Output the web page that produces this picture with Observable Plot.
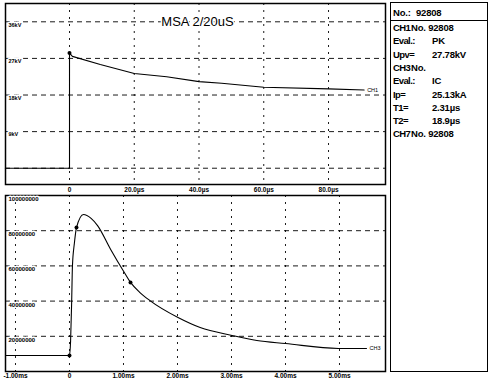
<!DOCTYPE html>
<html><head><meta charset="utf-8">
<script src="https://cdn.jsdelivr.net/npm/d3@7"></script>
<script src="https://cdn.jsdelivr.net/npm/@observablehq/plot@0.6"></script>
<style>
body{margin:0;background:#fff;}
#wrap{position:relative;width:490px;height:378px;overflow:hidden;background:#fff;font-family:"Liberation Sans",Arial,sans-serif;}
#top,#bot{position:absolute;left:0;}
#top{top:0;}
#bot{top:193px;}
#info{position:absolute;left:390px;top:2px;width:98px;height:370px;border:1.5px solid #000;box-sizing:border-box;color:#000;font-weight:bold;font-size:9.5px;letter-spacing:-0.2px;}
#info .hdr{position:absolute;left:0;top:0;width:100%;height:18px;border-bottom:1.2px solid #000;box-sizing:border-box;}
#info .t{position:absolute;white-space:nowrap;line-height:12px;}
#info .k{letter-spacing:-0.6px;}
</style></head>
<body><div id="wrap"><div id="top"></div><div id="bot"></div><div id="info"></div></div>
<script>
// ---------- data ----------
const title = "MSA 2/20uS";
// CH1 voltage (kV) vs time (µs)
const vTime = [-19.8, 0, 0, 0.9, 9.5, 20, 30, 40, 47, 60, 80, 91];
const vKV   = [0, 0, 28.3, 27.5, 25.5, 23.3, 22.5, 21.3, 20.9, 19.9, 19.5, 19.25];
const vDotTime = [0];
const vDotKV = [28.3];
const vTicks = [0, 20, 40, 60, 80];
const vTickLabels = ["0", "20.0µs", "40.0µs", "60.0µs", "80.0µs"];
const kvGrid = [0, 9, 18, 27, 36];
const kvTicks = [9, 18, 27, 36];
const kvLabels = ["9kV", "18kV", "27kV", "36kV"];
const ch1Label = "CH1";

// CH3 current vs time
const iTime = [-1.185, 0, 0.02, 0.04, 0.055, 0.09, 0.13, 0.26, 0.4, 0.52, 0.76, 1.01, 1.13, 1.3, 1.49, 2.01, 2.42, 3.01, 3.47, 4.0, 4.98, 5.5];
const iVal  = [9.1, 9.1, 17, 39.2, 60.2, 72.7, 81.8, 89.2, 87, 82.9, 69.5, 56.5, 50.6, 45, 40.3, 30.7, 25, 20.5, 17.6, 15.9, 13.1, 13.1];
const iDotTime = [0, 0.13, 1.13];
const iDotVal = [9.1, 81.8, 50.6];
const iTicks = [-1, 0, 1, 2, 3, 4, 5];
const iTickLabels = ["-1.00ms", "0", "1.00ms", "2.00ms", "3.00ms", "4.00ms", "5.00ms"];
const iYTicks = [20, 40, 60, 80, 100];
const iYLabels = ["20000000", "40000000", "60000000", "80000000", "100000000"];
const ch3Label = "CH3";

// info panel
const infoHeader = ["No.:", "92808"];
const infoKeys = ["CH1", "Eval.:", "Upv=", "CH3", "Eval.:", "Ip=", "T1=", "T2=", "CH7"];
const infoVals = ["No. 92808", "PK", "27.78kV", "No.", "IC", "25.13kA", "2.31µs", "18.9µs", "No. 92808"];
const infoIsChannel = [true, false, false, true, false, false, false, false, true];

// ---------- charts ----------
const font = {fontFamily: "'Liberation Sans', Arial, sans-serif", background: "transparent", color: "#000", overflow: "visible"};
const gridStyleH = {stroke: "#000", strokeOpacity: 1, strokeWidth: 0.9, strokeDasharray: "5,4"};
const gridStyleV = {stroke: "#000", strokeOpacity: 1, strokeWidth: 0.9, strokeDasharray: "2,5"};

const vData = vTime.map((t, i) => ({t, v: vKV[i]}));
const vDots = vDotTime.map((t, i) => ({t, v: vDotKV[i]}));
const vEnd = vData[vData.length - 1];

const topPlot = Plot.plot({
  width: 390, height: 193,
  marginLeft: 5, marginRight: 5, marginTop: 3, marginBottom: 9,
  x: {domain: [-19.77, 97.6], axis: null},
  y: {domain: [-4, 40.5], axis: null},
  style: font,
  marks: [
    Plot.gridY(kvGrid, gridStyleH),
    Plot.gridX(vTicks, gridStyleV),
    Plot.frame({stroke: "#000", strokeWidth: 1.5}),
    Plot.line(vData, {x: "t", y: "v", stroke: "#000", strokeWidth: 1.1}),
    Plot.dot(vDots, {x: "t", y: "v", r: 2, fill: "#000"}),
    Plot.text(kvTicks, {y: d => d, text: (d, i) => kvLabels[i], frameAnchor: "left", dx: 3, dy: 3, textAnchor: "start",
      fontSize: 5.5, fontWeight: "bold", fill: "#000", stroke: "#fff", strokeWidth: 3, paintOrder: "stroke"}),
    Plot.text(vTicks, {x: d => d, text: (d, i) => vTickLabels[i], frameAnchor: "bottom", dy: 5.5, lineAnchor: "middle",
      fontSize: 6.5, fontWeight: "bold", fill: "#000"}),
    Plot.text([title], {text: d => d, frameAnchor: "top", dx: 2, dy: 18, lineAnchor: "middle", fontSize: 13,
      fill: "#000", stroke: "#fff", strokeWidth: 3, paintOrder: "stroke"}),
    Plot.text([vEnd], {x: "t", y: "v", text: () => ch1Label, dx: 3, textAnchor: "start", fontSize: 5.5, fill: "#000",
      stroke: "#fff", strokeWidth: 2, paintOrder: "stroke"})
  ]
});
document.getElementById("top").appendChild(topPlot);

const iData = iTime.map((t, i) => ({t, v: iVal[i]}));
const iDots = iDotTime.map((t, i) => ({t, v: iDotVal[i]}));
const iEnd = iData[iData.length - 1];

const botPlot = Plot.plot({
  width: 390, height: 185,
  marginLeft: 5, marginRight: 5, marginTop: 2, marginBottom: 7,
  x: {domain: [-1.185, 5.852], axis: null},
  y: {domain: [0, 100], axis: null},
  style: font,
  marks: [
    Plot.gridY(iYTicks.slice(0, 4), gridStyleH),
    Plot.gridX(iTicks, gridStyleV),
    Plot.frame({stroke: "#000", strokeWidth: 1.5}),
    Plot.line(iData, {x: "t", y: "v", stroke: "#000", strokeWidth: 1.1, curve: "monotone-x"}),
    Plot.dot(iDots, {x: "t", y: "v", r: 2, fill: "#000"}),
    Plot.text(iYTicks, {y: d => d, text: (d, i) => iYLabels[i], frameAnchor: "left", dx: 3, dy: 3.5, textAnchor: "start",
      fontSize: 6, fontWeight: "bold", fill: "#000", stroke: "#fff", strokeWidth: 3, paintOrder: "stroke"}),
    Plot.text(iTicks, {x: d => d, text: (d, i) => iTickLabels[i], frameAnchor: "bottom", dy: 4, lineAnchor: "middle",
      fontSize: 6.5, fontWeight: "bold", fill: "#000"}),
    Plot.text([iEnd], {x: "t", y: "v", text: () => ch3Label, dx: 3, textAnchor: "start", fontSize: 5.5, fill: "#000",
      stroke: "#fff", strokeWidth: 2, paintOrder: "stroke"})
  ]
});
document.getElementById("bot").appendChild(botPlot);

// info panel
const info = document.getElementById("info");
const hdr = document.createElement("div"); hdr.className = "hdr"; info.appendChild(hdr);
function addText(txt, left, top, cls) {
  const el = document.createElement("div");
  el.className = "t" + (cls ? " " + cls : ""); el.textContent = txt;
  el.style.left = left + "px"; el.style.top = top + "px";
  info.appendChild(el);
}
addText(infoHeader[0], 2, 4);
addText(infoHeader[1], 25, 4);
infoKeys.forEach((k, i) => {
  const top = 19 + i * 13.3;
  addText(k, 2, top, "k");
  addText(infoVals[i], infoIsChannel[i] ? 20 : 41, top);
});
</script>
</body></html>
